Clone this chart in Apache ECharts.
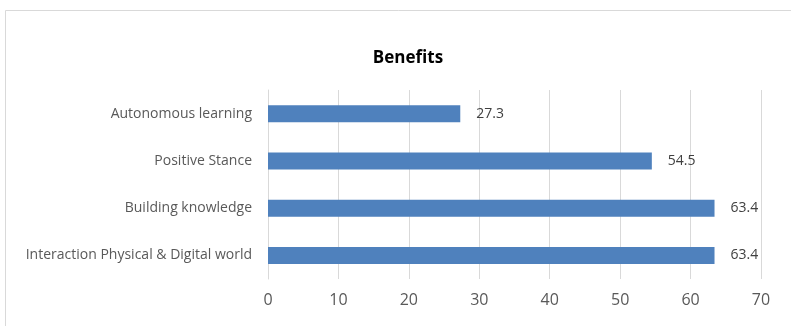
<!DOCTYPE html>
<html>
<head>
<meta charset="utf-8">
<script src="https://cdn.jsdelivr.net/npm/echarts@6/dist/echarts.min.js"></script>
<style>html,body{margin:0;padding:0;background:#fff}#c{width:791px;height:326px}</style>
</head>
<body>
<div id="c"></div>
<script>
const categories = ["Autonomous learning", "Positive Stance", "Building knowledge", "Interaction Physical & Digital world"];
const values = [27.3, 54.5, 63.4, 63.4];
const xTicks = [0, 10, 20, 30, 40, 50, 60, 70];

const chart = echarts.init(document.getElementById('c'), null, {renderer: 'canvas'});
chart.setOption({
  animation: false,
  backgroundColor: '#fff',
  graphic: [{
    type: 'rect', shape: {x: 5.5, y: 10.5, width: 800, height: 330},
    style: {fill: 'none', stroke: '#d9d9d9', lineWidth: 1}, silent: true
  }, {
    type: 'text', x: 408, y: 58,
    style: {text: 'Benefits', align: 'center', verticalAlign: 'middle',
      font: 'bold 17px "Open Sans"', fill: '#000'}, silent: true
  }],
  grid: {left: 268, right: 30, top: 90, bottom: 47, containLabel: false},
  xAxis: {
    type: 'value', min: xTicks[0], max: xTicks[xTicks.length - 1], interval: 10,
    axisLine: {show: false}, axisTick: {show: false},
    splitLine: {show: true, lineStyle: {color: '#d9d9d9', width: 1}},
    axisLabel: {fontFamily: 'Open Sans', fontSize: 16, color: '#595959', margin: 13}
  },
  yAxis: {
    type: 'category', data: categories, inverse: true,
    axisLine: {show: true, lineStyle: {color: '#d9d9d9'}}, axisTick: {show: false},
    axisLabel: {fontFamily: 'Open Sans', fontSize: 14, color: '#595959', margin: 16}
  },
  series: [{
    type: 'bar', data: values, barWidth: 17,
    itemStyle: {color: '#4f81bd'},
    label: {show: true, position: 'right', distance: 16, fontFamily: 'Open Sans', fontSize: 14, color: '#404040'}
  }]
});
</script>
</body>
</html>
